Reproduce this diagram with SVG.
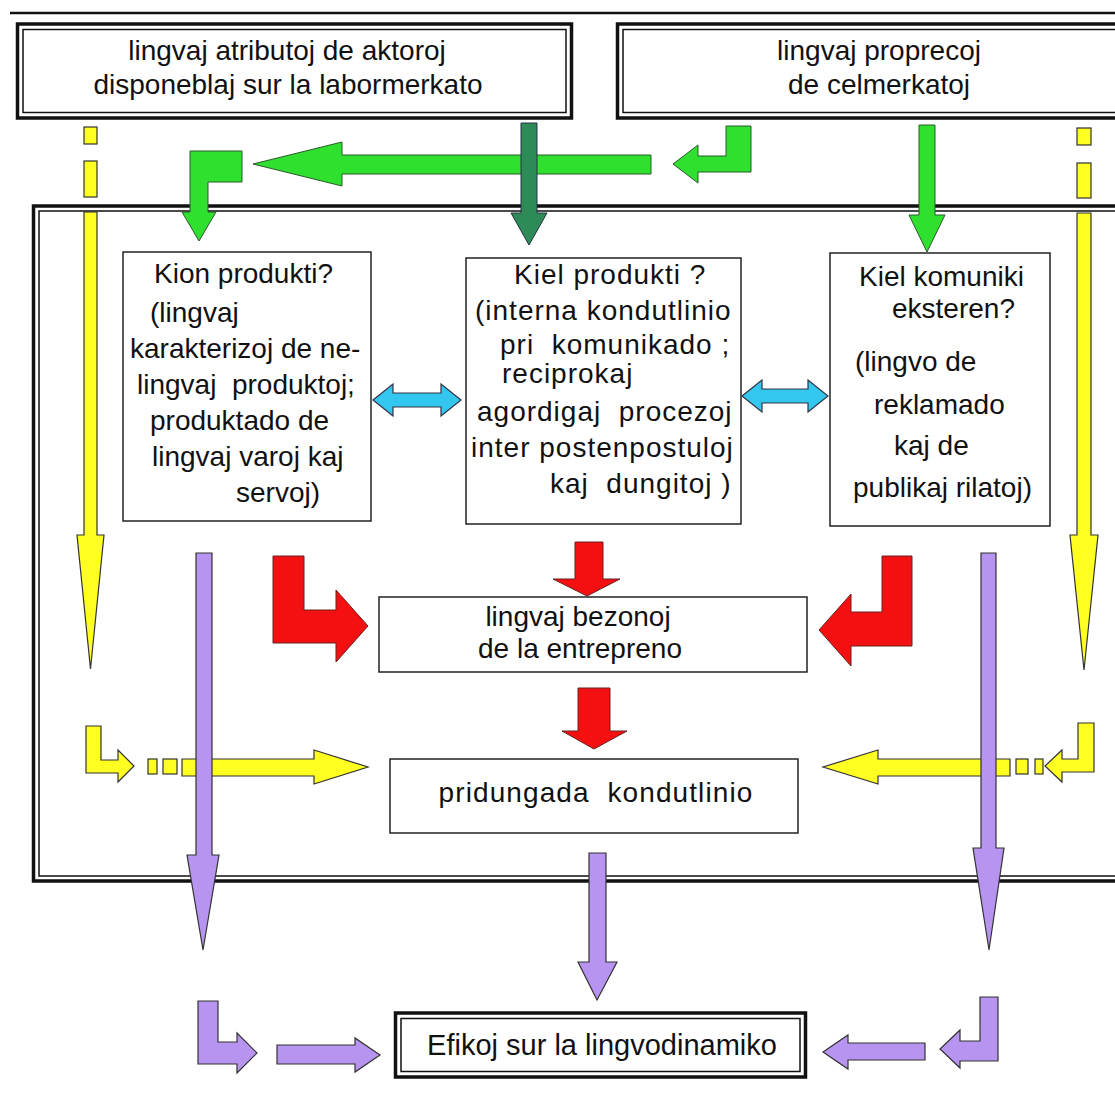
<svg xmlns="http://www.w3.org/2000/svg" width="1115" height="1097" viewBox="0 0 1115 1097">
<defs>
<style>
.t{font-family:"Liberation Sans",Arial,sans-serif;font-size:28px;fill:#111}
.c{text-anchor:middle}
.box{fill:#fff;stroke:#222;stroke-width:1.5}
.dbo{fill:none;stroke:#111;stroke-width:3.5}
.dbi{fill:none;stroke:#111;stroke-width:1.5}
.g{fill:#2fe02f;stroke:#2a5a2a;stroke-width:1}
.dg{fill:#2e8b57;stroke:#234;stroke-width:1}
.y{fill:#ffff22;stroke:#333;stroke-width:1.2}
.r{fill:#f41010;stroke:#622;stroke-width:1}
.p{fill:#b794f0;stroke:#333;stroke-width:1.2}
.cy{fill:#33c6ee;stroke:#334;stroke-width:1.2}
</style>
</defs>
<rect width="1115" height="1097" fill="#fff"/>
<line x1="10" y1="13" x2="1115" y2="13" stroke="#111" stroke-width="2.5"/>

<g id="main-frame">
<rect class="dbo" x="33.5" y="206" width="1100" height="675"/>
<rect class="dbi" x="39" y="211" width="1090" height="665"/>
</g>

<g id="node-labormerkato">
<rect class="dbo" x="17.5" y="24" width="554" height="94"/>
<rect class="dbi" x="23" y="29.5" width="543" height="83"/>
<text class="t c" x="287" y="60">lingvaj atributoj de aktoroj</text>
<text class="t c" x="288" y="94">disponeblaj sur la labormerkato</text>
</g>

<g id="node-celmerkatoj">
<rect class="dbo" x="617.5" y="24" width="520" height="94"/>
<rect class="dbi" x="623" y="29.5" width="510" height="83"/>
<text class="t c" x="879" y="60">lingvaj proprecoj</text>
<text class="t c" x="879" y="94">de celmerkatoj</text>
</g>

<g id="node-kion">
<rect class="box" x="123" y="252" width="248" height="269"/>
<text class="t"><tspan x="154" y="283">Kion produkti?</tspan><tspan x="150" y="322">(lingvaj</tspan><tspan x="130" y="358">karakterizoj de ne-</tspan><tspan x="137" y="394" xml:space="preserve">lingvaj  produktoj;</tspan><tspan x="150" y="430">produktado de</tspan><tspan x="152" y="466">lingvaj varoj kaj</tspan><tspan x="236" y="502">servoj)</tspan></text>
</g>

<g id="node-kiel-produkti">
<rect class="box" x="466" y="258" width="275" height="266"/>
<text class="t" letter-spacing="1" xml:space="preserve"><tspan x="514" y="284">Kiel produkti ?</tspan><tspan x="475" y="320">(interna kondutlinio</tspan><tspan x="500" y="354">pri  komunikado ;</tspan><tspan x="502" y="383">reciprokaj</tspan><tspan x="477" y="421">agordigaj  procezoj</tspan><tspan x="471" y="457">inter postenpostuloj</tspan><tspan x="550" y="493">kaj  dungitoj )</tspan></text>
</g>

<g id="node-kiel-komuniki">
<rect class="box" x="830" y="253" width="220" height="273"/>
<text class="t"><tspan x="859" y="286">Kiel komuniki</tspan><tspan x="892" y="318">eksteren?</tspan><tspan x="855" y="371">(lingvo de</tspan><tspan x="874" y="414">reklamado</tspan><tspan x="894" y="455">kaj de</tspan><tspan x="853" y="497">publikaj rilatoj)</tspan></text>
</g>

<g id="node-bezonoj">
<rect class="box" x="379" y="597" width="428" height="75"/>
<text class="t c"><tspan x="578" y="626">lingvaj bezonoj</tspan><tspan x="580" y="658">de la entrepreno</tspan></text>
</g>

<g id="node-pridungada">
<rect class="box" x="390" y="759" width="408" height="74"/>
<text class="t c" x="596" y="802" letter-spacing="1.1" xml:space="preserve">pridungada  kondutlinio</text>
</g>

<g id="node-efikoj">
<rect class="dbo" x="395.5" y="1013" width="410" height="64"/>
<rect class="dbi" x="401" y="1018.5" width="399" height="53"/>
<text class="t c" x="602" y="1055" style="font-size:29px">Efikoj sur la lingvodinamiko</text>
</g>

<g id="connectors">
<!-- green -->
<polygon class="g" points="190,151 242,151 242,182 208,182 208,212 216,212 199,241 182,212 190,212"/>
<polygon class="g" points="651,155 342,155 342,142 253,164 342,186 342,174 651,174"/>
<polygon class="g" points="726,126 751,126 751,172 698,172 698,183 673,164 698,145 698,156 726,156"/>
<polygon class="dg" points="521,123 537,123 537,213 547,213 529,245 511,213 521,213"/>
<polygon class="g" points="919,125 935,125 935,215 945,215 927,252 909,215 919,215"/>
<!-- yellow vertical -->
<rect class="y" x="84" y="127" width="13" height="17"/>
<rect class="y" x="84" y="161" width="13" height="36"/>
<polygon class="y" points="84,212 97,212 97,535 104,535 90.5,669 77,535 84,535"/>
<rect class="y" x="1077" y="128" width="14" height="17"/>
<rect class="y" x="1077" y="163" width="14" height="35"/>
<polygon class="y" points="1077,213 1091,213 1091,535 1098,535 1084,670 1070,535 1077,535"/>
<!-- cyan -->
<polygon class="cy" points="373,400 393,384 393,393 441,393 441,384 461,400 441,416 441,407 393,407 393,416"/>
<polygon class="cy" points="742,396 762,380 762,389 808,389 808,380 828,396 808,412 808,403 762,403 762,412"/>
<!-- red -->
<polygon class="r" points="273,556 304,556 304,610 336,610 336,590 368,626 336,662 336,643 273,643"/>
<polygon class="r" points="575,542 603,542 603,579 620,579 587,596 553,579 575,579"/>
<polygon class="r" points="578,688 610,688 610,731 627,731 594,749 562,731 578,731"/>
<polygon class="r" points="882,556 912,556 912,646 851,646 851,666 819,630 851,594 851,612 882,612"/>
<!-- yellow horizontal -->
<polygon class="y" points="86,726 101,726 101,760 118,760 118,750 134,766 118,782 118,773 86,773"/>
<rect class="y" x="148" y="759" width="9" height="15"/>
<rect class="y" x="163" y="759" width="14" height="15"/>
<polygon class="y" points="182,759 314,759 314,750 368,767 314,784 314,776 182,776"/>
<polygon class="y" points="1094,723 1078,723 1078,759 1062,759 1062,750 1045,766 1062,782 1062,772 1094,772"/>
<rect class="y" x="1035" y="759" width="8" height="15"/>
<rect class="y" x="1016" y="759" width="12" height="15"/>
<polygon class="y" points="1010,759 878,759 878,750 823,767 878,784 878,776 1010,776"/>
<!-- purple -->
<polygon class="p" points="196,553 212,553 212,855 219,855 203,950 187,855 196,855"/>
<polygon class="p" points="981,553 996,553 996,848 1004,848 989,950 973,848 981,848"/>
<polygon class="p" points="589,853 606,853 606,962 617,962 597,1000 578,962 589,962"/>
<polygon class="p" points="198,1001 218,1001 218,1042 237,1042 237,1033 257,1053 237,1073 237,1064 198,1064"/>
<polygon class="p" points="277,1045 355,1045 355,1038 380,1055 355,1072 355,1064 277,1064"/>
<polygon class="p" points="925,1043 848,1043 848,1035 823,1052 848,1069 848,1060 925,1060"/>
<polygon class="p" points="998,997 980,997 980,1041 960,1041 960,1030 940,1049 960,1068 960,1061 998,1061"/>
</g>
</svg>
